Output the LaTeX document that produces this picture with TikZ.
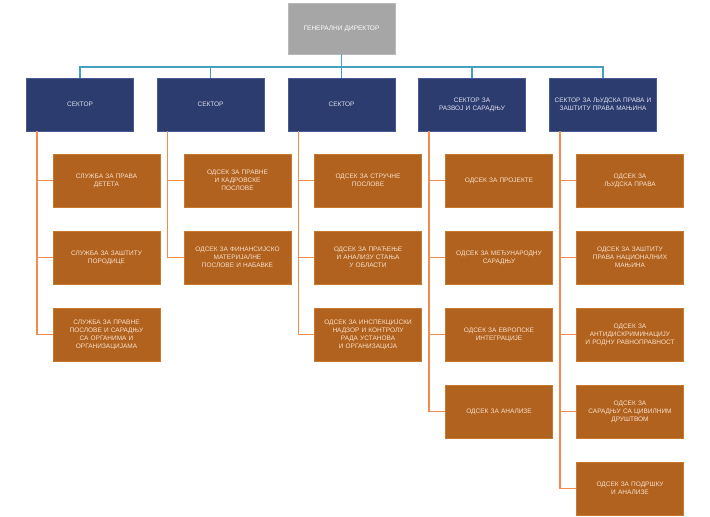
\documentclass[tikz,border=0pt]{standalone}
\usepackage{fontspec}
\setmainfont{Liberation Sans}
\begin{document}
\begin{tikzpicture}[x=1pt,y=-1pt,
  box/.style={rectangle, minimum width=107pt, minimum height=53pt, inner sep=2pt,
    text width=100pt, align=center, font=\fontsize{6.5}{8}\selectfont},
  topbox/.style={box, minimum height=51pt, fill=gray!70, draw=gray!55, text=white},
  sector/.style={box, fill={rgb,255:red,44;green,60;blue,110}, draw={rgb,255:red,70;green,90;blue,150}, text={rgb,255:red,225;green,225;blue,240}},
  unit/.style={box, fill={rgb,255:red,176;green,98;blue,30}, draw={rgb,255:red,200;green,120;blue,45}, text={rgb,255:red,250;green,225;blue,205}},
  bus/.style={draw={rgb,255:red,70;green,160;blue,190}, line width=1.2pt},
  feed/.style={draw={rgb,255:red,240;green,140;blue,80}, line width=1.2pt}]
\useasboundingbox (0,0) rectangle (710,517);

% top level
\node[topbox] (top) at (341.5,28.5) {ГЕНЕРАЛНИ ДИРЕКТОР};

% sectors
\node[sector] (s1) at (80,104.5) {СЕКТОР};
\node[sector] (s2) at (210.5,104.5) {СЕКТОР};
\node[sector] (s3) at (341.5,104.5) {СЕКТОР};
\node[sector] (s4) at (472,104.5) {СЕКТОР ЗА\\РАЗВОЈ И САРАДЊУ};
\node[sector] (s5) at (603,104.5) {СЕКТОР ЗА ЉУДСКА ПРАВА И\\ЗАШТИТУ ПРАВА МАЊИНА};

% units of sector 1
\node[unit] (u11) at (106.5,180.5) {СЛУЖБА ЗА ПРАВА\\ДЕТЕТА};
\node[unit] (u12) at (106.5,257.5) {СЛУЖБА ЗА ЗАШТИТУ\\ПОРОДИЦЕ};
\node[unit] (u13) at (106.5,334.5) {СЛУЖБА ЗА ПРАВНЕ\\ПОСЛОВЕ И САРАДЊУ\\СА ОРГАНИМА И\\ОРГАНИЗАЦИЈАМА};

% units of sector 2
\node[unit] (u21) at (237.5,180.5) {ОДСЕК ЗА ПРАВНЕ\\И КАДРОВСКЕ\\ПОСЛОВЕ};
\node[unit] (u22) at (237.5,257.5) {ОДСЕК ЗА ФИНАНСИЈСКО\\МАТЕРИЈАЛНЕ\\ПОСЛОВЕ И НАБАВКЕ};

% units of sector 3
\node[unit] (u31) at (368,180.5) {ОДСЕК ЗА СТРУЧНЕ\\ПОСЛОВЕ};
\node[unit] (u32) at (368,257.5) {ОДСЕК ЗА ПРАЋЕЊЕ\\И АНАЛИЗУ СТАЊА\\У ОБЛАСТИ};
\node[unit] (u33) at (368,334.5) {ОДСЕК ЗА ИНСПЕКЦИЈСКИ\\НАДЗОР И КОНТРОЛУ\\РАДА УСТАНОВА\\И ОРГАНИЗАЦИЈА};

% units of sector 4
\node[unit] (u41) at (499,180.5) {ОДСЕК ЗА ПРОЈЕКТЕ};
\node[unit] (u42) at (499,257.5) {ОДСЕК ЗА МЕЂУНАРОДНУ\\САРАДЊУ};
\node[unit] (u43) at (499,334.5) {ОДСЕК ЗА ЕВРОПСКЕ\\ИНТЕГРАЦИЈЕ};
\node[unit] (u44) at (499,411.5) {ОДСЕК ЗА АНАЛИЗЕ};

% units of sector 5
\node[unit] (u51) at (630,180.5) {ОДСЕК ЗА\\ЉУДСКА ПРАВА};
\node[unit] (u52) at (630,257.5) {ОДСЕК ЗА ЗАШТИТУ\\ПРАВА НАЦИОНАЛНИХ\\МАЊИНА};
\node[unit] (u53) at (630,334.5) {ОДСЕК ЗА\\АНТИДИСКРИМИНАЦИЈУ\\И РОДНУ РАВНОПРАВНОСТ};
\node[unit] (u54) at (630,411.5) {ОДСЕК ЗА\\САРАДЊУ СА ЦИВИЛНИМ\\ДРУШТВОМ};
\node[unit] (u55) at (630,488.5) {ОДСЕК ЗА ПОДРШКУ\\И АНАЛИЗЕ};

% blue bus from the top box to the sectors
\coordinate (busy) at (0,67);
\foreach \s in {s1,s2,s3,s4,s5}
  \draw[bus] (top.south) -- (top.south |- busy) -| (\s.north);

% orange feeders from each sector down to its units
\foreach \s/\u in {s1/u11,s1/u12,s1/u13,
                   s2/u21,s2/u22,
                   s3/u31,s3/u32,s3/u33,
                   s4/u41,s4/u42,s4/u43,s4/u44,
                   s5/u51,s5/u52,s5/u53,s5/u54,s5/u55}
  \draw[feed] ([xshift=-43pt]\s.south) |- (\u.west);
\end{tikzpicture}
\end{document}
